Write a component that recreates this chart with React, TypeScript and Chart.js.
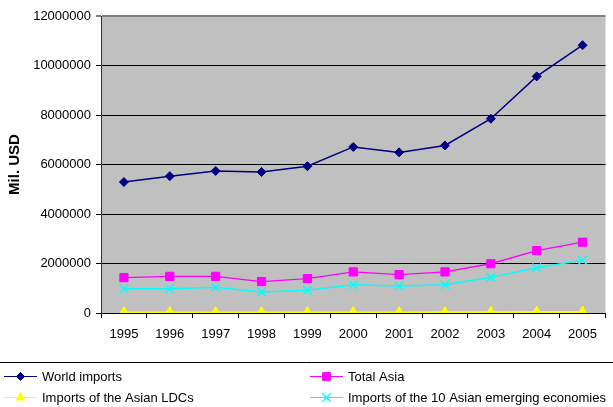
import React, { useEffect, useRef } from "react";
import { Chart, registerables } from "chart.js";
import { drawPoint } from "chart.js/helpers";

Chart.register(...registerables);

const years = ["1995", "1996", "1997", "1998", "1999", "2000", "2001", "2002", "2003", "2004", "2005"];
const worldImports = [5290000, 5530000, 5740000, 5700000, 5930000, 6710000, 6490000, 6770000, 7850000, 9560000, 10820000];
const totalAsia = [1430000, 1480000, 1480000, 1270000, 1390000, 1660000, 1550000, 1660000, 1990000, 2520000, 2860000];
const asianLDCs = [20000, 21000, 22000, 20000, 21000, 24000, 24000, 26000, 30000, 36000, 42000];
const emerging10 = [980000, 980000, 1040000, 850000, 920000, 1140000, 1090000, 1140000, 1440000, 1830000, 2130000];

const seriesNames = [
  "World imports",
  "Total Asia",
  "Imports of the Asian LDCs",
  "Imports of the 10 Asian emerging economies",
];

const FONT = "'Liberation Sans', Arial, sans-serif";

// grey plot background
const plotFrame = {
  id: "plotFrame",
  beforeDraw(chart: any) {
    const { ctx, chartArea } = chart;
    ctx.save();
    ctx.fillStyle = "#C0C0C0";
    ctx.fillRect(chartArea.left, chartArea.top, chartArea.right - chartArea.left, chartArea.bottom - chartArea.top);
    ctx.restore();
  },
};

// legend drawn below the plot in a two-column grid
const bottomLegend = {
  id: "bottomLegend",
  afterDraw(chart: any) {
    const { ctx, width } = chart;
    ctx.save();
    ctx.strokeStyle = "#000000";
    ctx.lineWidth = 1;
    ctx.beginPath();
    ctx.moveTo(0, 362.5);
    ctx.lineTo(width, 362.5);
    ctx.stroke();

    const slots = [
      { x: 4, y: 376 },
      { x: 310, y: 376 },
      { x: 4, y: 397 },
      { x: 310, y: 397 },
    ];
    chart.data.datasets.forEach((ds: any, i: number) => {
      const { x, y } = slots[i];
      ctx.strokeStyle = ds.borderColor;
      ctx.lineWidth = 1.2;
      ctx.beginPath();
      ctx.moveTo(x, y + 0.5);
      ctx.lineTo(x + 33, y + 0.5);
      ctx.stroke();
      ctx.fillStyle = ds.pointBackgroundColor;
      ctx.strokeStyle = ds.pointBorderColor;
      ctx.lineWidth = ds.pointBorderWidth;
      drawPoint(ctx, {
        pointStyle: ds.pointStyle,
        radius: ds.legendRadius,
        rotation: 0,
        borderWidth: ds.pointBorderWidth,
      } as any, x + 16.5, y + 0.5);
      ctx.fillStyle = "#000000";
      ctx.font = `13px ${FONT}`;
      ctx.textBaseline = "middle";
      ctx.textAlign = "left";
      ctx.fillText(ds.label, x + 38, y + 1);
    });
    ctx.restore();
  },
};

export default function App() {
  const canvasRef = useRef<HTMLCanvasElement | null>(null);

  useEffect(() => {
    if (!canvasRef.current) return;
    const chart = new Chart(canvasRef.current, {
      type: "line",
      data: {
        labels: years,
        datasets: [
          {
            label: seriesNames[0],
            data: worldImports,
            borderColor: "#000080",
            backgroundColor: "#000080",
            borderWidth: 1.5,
            pointStyle: "rectRot",
            pointRadius: 4.5,
            legendRadius: 4,
            pointBackgroundColor: "#000080",
            pointBorderColor: "#000080",
            pointBorderWidth: 1,
          },
          {
            label: seriesNames[1],
            data: totalAsia,
            borderColor: "#FF00FF",
            backgroundColor: "#FF00FF",
            borderWidth: 1.3,
            pointStyle: "rect",
            pointRadius: 5.8,
            legendRadius: 5.5,
            pointBackgroundColor: "#FF00FF",
            pointBorderColor: "#FF00FF",
            pointBorderWidth: 1,
          },
          {
            label: seriesNames[2],
            data: asianLDCs,
            borderColor: "#FFFF00",
            backgroundColor: "#FFFF00",
            borderWidth: 2,
            pointStyle: "triangle",
            pointRadius: 6,
            legendRadius: 5,
            pointBackgroundColor: "#FFFF00",
            pointBorderColor: "#FFFF00",
            pointBorderWidth: 1,
            clip: { left: false, top: false, right: false, bottom: 0 },
          },
          {
            label: seriesNames[3],
            data: emerging10,
            borderColor: "#00FFFF",
            backgroundColor: "#00FFFF",
            borderWidth: 1.5,
            pointStyle: "crossRot",
            pointRadius: 6,
            legendRadius: 6,
            pointBackgroundColor: "#00FFFF",
            pointBorderColor: "#00FFFF",
            pointBorderWidth: 1.5,
          },
        ] as any,
      },
      options: {
        animation: false,
        responsive: false,
        devicePixelRatio: 1,
        layout: { padding: { top: 16, right: 0, left: 0, bottom: 0 } },
        plugins: {
          legend: { display: false },
          tooltip: { enabled: false },
        },
        scales: {
          x: {
            offset: true,
            grid: {
              offset: true,
              drawOnChartArea: false,
              drawTicks: true,
              tickLength: 5,
              color: "#000000",
            },
            border: { color: "#000000", width: 1 },
            ticks: {
              color: "#000000",
              font: { family: FONT, size: 13 },
              padding: 9,
              maxRotation: 0,
              autoSkip: false,
            },
            afterFit: (scale: any) => {
              scale.height = 94;
            },
          },
          y: {
            min: 0,
            max: 12000000,
            grid: {
              color: (c: any) => (c.tick && c.tick.value === 12000000 ? "#808080" : "#000000"),
              lineWidth: (c: any) => (c.tick && c.tick.value === 12000000 ? 2 : 1),
              drawTicks: true,
              tickLength: 5,
            },
            border: { color: "#333333", width: 1 },
            ticks: {
              stepSize: 2000000,
              color: "#000000",
              font: { family: FONT, size: 13 },
              padding: 5,
              callback: (v: any) => String(v),
            },
            title: {
              display: true,
              text: "Mil. USD",
              color: "#000000",
              font: { family: FONT, size: 15, weight: "bold" },
              padding: { top: 6, bottom: 0 },
            },
            afterFit: (scale: any) => {
              scale.width = 101;
            },
          },
        },
      },
      plugins: [plotFrame, bottomLegend],
    });
    return () => chart.destroy();
  }, []);

  return (
    <div style={{ position: "fixed", left: 0, top: 0, width: 613, height: 407, background: "#ffffff" }}>
      <canvas ref={canvasRef} width={613} height={407} style={{ display: "block" }} />
    </div>
  );
}
